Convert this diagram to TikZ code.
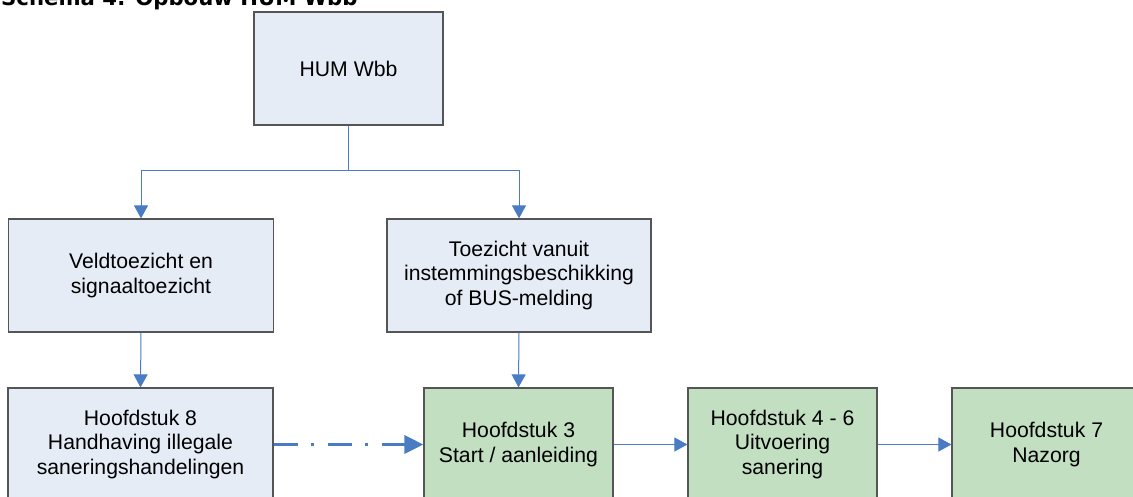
\documentclass[tikz,border=0pt]{standalone}
\usepackage{fontspec}
\setmainfont{Liberation Sans}
\newfontfamily\titlefont{DejaVu Sans}
\usetikzlibrary{arrows.meta}
\definecolor{boxblue}{HTML}{E5ECF6}
\definecolor{boxgreen}{HTML}{C2DFC1}
\definecolor{boxline}{HTML}{555555}
\definecolor{conn}{HTML}{4A7CC4}
\tikzset{
  box/.style={draw=boxline, line width=1.2pt, rectangle, minimum height=113pt,
    inner sep=0pt, align=center, font=\fontsize{21.2}{24.5}\selectfont},
  bluebox/.style={box, fill=boxblue},
  greenbox/.style={box, fill=boxgreen},
  thinarrow/.style={draw=conn, line width=1pt, -{Triangle[length=13pt,width=14pt]}},
  thinline/.style={draw=conn, line width=1pt},
  dasharrow/.style={draw=conn, line width=3.3pt,
    dash pattern=on 24pt off 13pt on 3pt off 14pt,
    -{Triangle[length=19pt,width=18pt]}}
}
\begin{document}
\begin{tikzpicture}[x=1pt,y=-1pt]
\useasboundingbox (0,0) rectangle (1133,496);
\clip (0,0) rectangle (1133,496);
\node[anchor=base west, inner sep=0pt] (title) at (1,5)
  {\titlefont\bfseries\fontsize{21.2}{24}\selectfont Schema 4: Opbouw HUM Wbb};
\node[bluebox, minimum width=189pt] (hum) at (348.5,68.5) {HUM Wbb};
\node[bluebox, minimum width=265pt] (veld) at (141,275.5) {Veldtoezicht en\\signaaltoezicht};
\node[bluebox, minimum width=264pt] (toez) at (519,275.5) {Toezicht vanuit\\instemmingsbeschikking\\of BUS-melding};
\node[bluebox, minimum width=265pt] (h8) at (140.5,444.5) {Hoofdstuk 8\\Handhaving illegale\\saneringshandelingen};
\node[greenbox, minimum width=189pt] (h3) at (518.5,444.5) {Hoofdstuk 3\\Start / aanleiding};
\node[greenbox, minimum width=189pt] (h46) at (782.5,444.5) {Hoofdstuk 4 - 6\\Uitvoering\\sanering};
\node[greenbox, minimum width=189pt] (h7) at (1046.5,444.5) {Hoofdstuk 7\\Nazorg};
\coordinate (split) at (348.5,170);
\draw[thinline] (hum.south) -- (split);
\draw[thinarrow] (split) -| (veld.north);
\draw[thinarrow] (split) -| (toez.north);
\draw[thinarrow] (veld.south) -- (h8.north);
\draw[thinarrow] (toez.south) -- (h3.north);
\draw[dasharrow] (h8.east) -- (h3.west);
\draw[thinarrow] (h3.east) -- (h46.west);
\draw[thinarrow] (h46.east) -- (h7.west);
\end{tikzpicture}
\end{document}
